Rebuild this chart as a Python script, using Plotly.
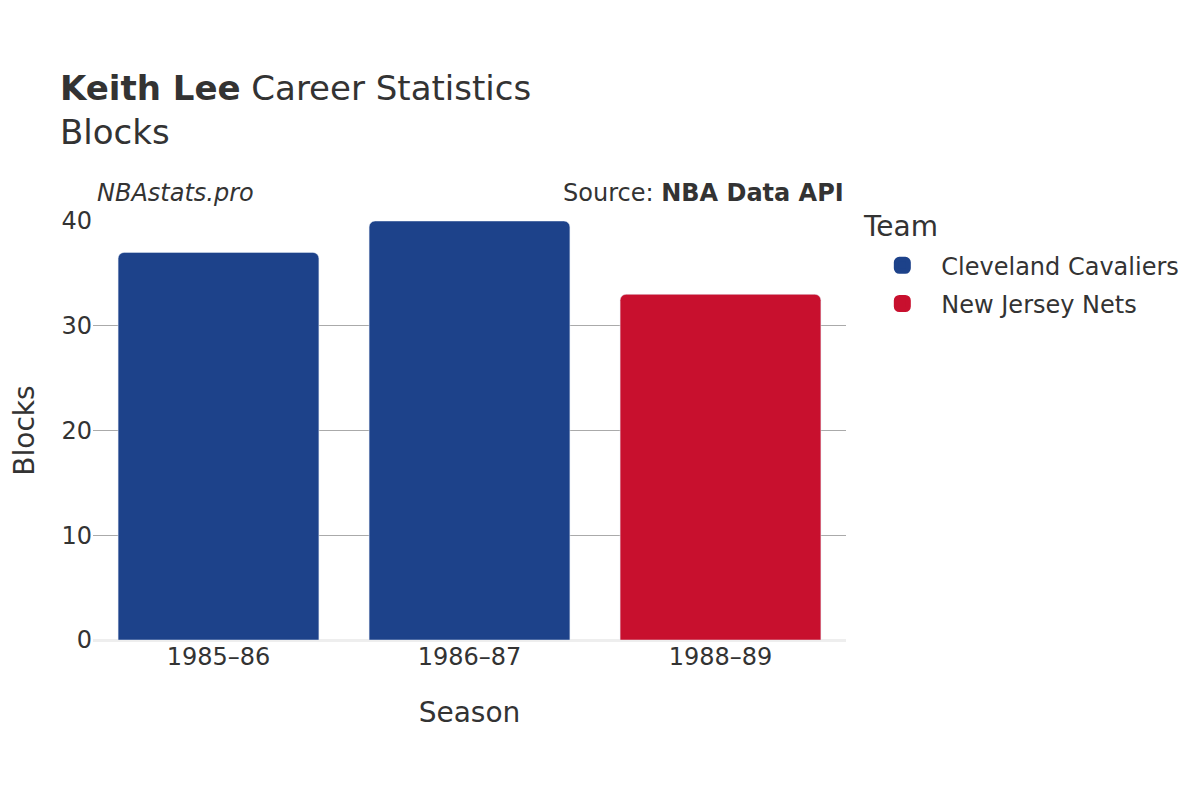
import plotly.graph_objects as go

seasons = ["1985–86", "1986–87", "1988–89"]
teams = ["Cleveland Cavaliers", "Cleveland Cavaliers", "New Jersey Nets"]
blocks = [37, 40, 33]

team_colors = {"Cleveland Cavaliers": "#1D428A", "New Jersey Nets": "#C8102E"}

fig = go.Figure()
for team in dict.fromkeys(teams):
    xs = [s for s, t in zip(seasons, teams) if t == team]
    ys = [b for b, t in zip(blocks, teams) if t == team]
    # bars themselves, legend drawn by the proxy below
    fig.add_trace(go.Bar(x=xs, y=ys, name=team, legendgroup=team, showlegend=False,
                         marker=dict(color=team_colors[team])))
    fig.add_trace(go.Bar(x=[None], y=[None], name=team, legendgroup=team,
                         marker=dict(color=team_colors[team],
                                     line=dict(color=team_colors[team], width=5))))

fig.update_layout(
    width=1200,
    height=800,
    font=dict(family="DejaVu Sans", color="#333333", size=24),
    plot_bgcolor="white",
    paper_bgcolor="white",
    title=dict(
        text="<b>Keith Lee</b> Career Statistics<br>Blocks",
        x=0.0433, xanchor="left", y=0.885, yanchor="top",
        font=dict(size=34),
    ),
    margin=dict(l=85, r=362, t=213, b=168),
    bargap=0.2,
    barcornerradius=6,
    legend=dict(
        font=dict(size=24),
        x=1.023, y=0.947, yanchor="top",
        itemwidth=68, tracegroupgap=4,
    ),
    xaxis=dict(
        title=dict(text="Season", font=dict(size=28), standoff=32),
        categoryorder="array", categoryarray=seasons,
        showline=False, ticks="", automargin=False,
    ),
    yaxis=dict(
        title=dict(text="Blocks", font=dict(size=28), standoff=37),
        range=[0, 40], dtick=10, automargin=False,
        gridcolor="#aaaaaa", zeroline=True, zerolinecolor="#eeeeee", zerolinewidth=3,
    ),
    annotations=[
        dict(text="<i>NBAstats.pro</i>", x=0.003, y=1.028, xref="paper", yref="paper",
             xanchor="left", yanchor="bottom", showarrow=False, font=dict(size=24)),
        dict(text="Source: <b>NBA Data API</b>", x=1.0, y=1.028, xref="paper", yref="paper",
             xanchor="right", yanchor="bottom", showarrow=False, font=dict(size=24)),
        dict(text="Team", x=1.02, y=0.986, xref="paper", yref="paper",
             xanchor="left", yanchor="middle", showarrow=False, font=dict(size=28)),
    ],
)

fig.write_html("out.html")
